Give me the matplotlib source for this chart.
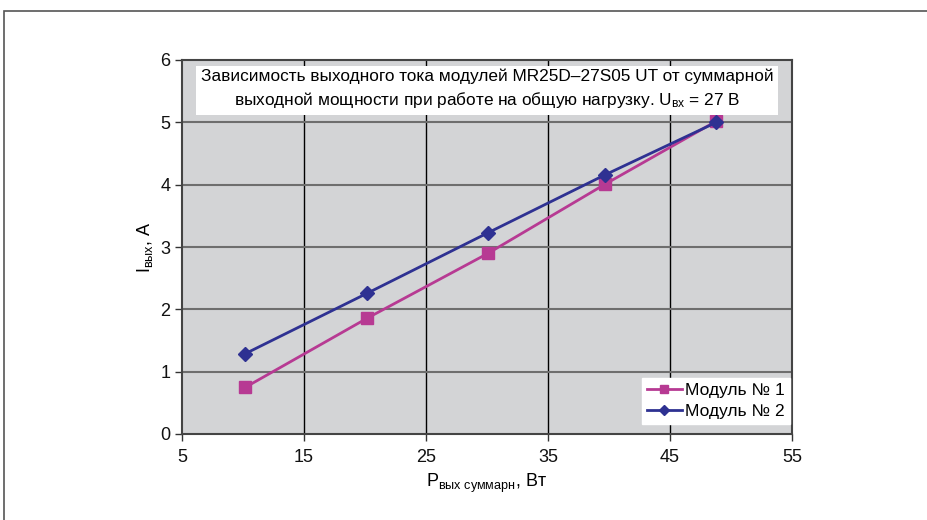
import matplotlib
matplotlib.use("Agg")
import matplotlib.pyplot as plt
from matplotlib.patches import Rectangle

plt.rcParams['font.family'] = ['Liberation Sans', 'DejaVu Sans']
plt.rcParams['mathtext.fontset'] = 'custom'
plt.rcParams['mathtext.rm'] = 'Liberation Sans'
plt.rcParams['mathtext.it'] = 'Liberation Sans'

p_total = [10.2, 20.2, 30.1, 39.7, 48.8]
module1 = [0.75, 1.86, 2.90, 4.01, 5.02]
module2 = [1.29, 2.26, 3.23, 4.16, 5.00]
series_names = ['Модуль № 1', 'Модуль № 2']
xticks = [5, 15, 25, 35, 45, 55]
yticks = [0, 1, 2, 3, 4, 5, 6]

fig = plt.figure(figsize=(9.27, 5.2), dpi=100)
fig.patches.append(Rectangle((4/927, -0.1), 1.2, 1 - 11/520 + 0.1, transform=fig.transFigure,
                             fill=False, edgecolor='#555555', linewidth=1.2))
ax = fig.add_axes([182/927, 1 - 434/520, 610/927, 374/520])
ax.set_facecolor('#d3d4d6')

ax.plot(p_total, module1, color='#b73a93', linewidth=2, marker='s', markersize=9,
        label=series_names[0], zorder=3)
ax.plot(p_total, module2, color='#2e3192', linewidth=2, marker='D', markersize=7,
        label=series_names[1], zorder=4)

ax.set_xlim(5, 55)
ax.set_ylim(0, 6)
ax.set_xticks(xticks)
ax.set_yticks(yticks)
for x in xticks[1:-1]:
    ax.axvline(x, color='black', linewidth=1, zorder=1)
for y in yticks[1:-1]:
    ax.axhline(y, color='#6e6e6e', linewidth=1.5, zorder=1)

for s in ['left', 'top', 'right', 'bottom']:
    ax.spines[s].set_color('#444444')
    ax.spines[s].set_linewidth(1.5)

ax.tick_params(axis='both', direction='out', length=5, width=1, color='#333333',
               labelsize=13, labelcolor='#111111')
ax.tick_params(axis='x', pad=6)

ax.set_xlabel(r'$\mathregular{P_{вых\ суммарн}}$, Вт', fontsize=13, labelpad=4)
ax.set_ylabel(r'$\mathregular{I_{вых}}$, А', fontsize=13, labelpad=4)

ax.text(0.5, 0.976,
        'Зависимость выходного тока модулей MR25D–27S05 UT от суммарной\n'
        r'выходной мощности при работе на общую нагрузку. $\mathregular{U_{вх}}$ = 27 В',
        transform=ax.transAxes, ha='center', va='top', fontsize=12.4, linespacing=1.35,
        bbox=dict(boxstyle='square,pad=0.3', facecolor='white', edgecolor='none'), zorder=5)

leg = ax.legend(loc='lower right', bbox_to_anchor=(0.997, 0.027), borderaxespad=0,
                fontsize=12.5, frameon=True, fancybox=False,
                edgecolor='white', facecolor='white', framealpha=1,
                borderpad=0.3, handlelength=2.0, handletextpad=0.2, labelspacing=0.3,
                markerscale=0.7)
leg.set_zorder(6)

fig.savefig('out.png', dpi=100)
